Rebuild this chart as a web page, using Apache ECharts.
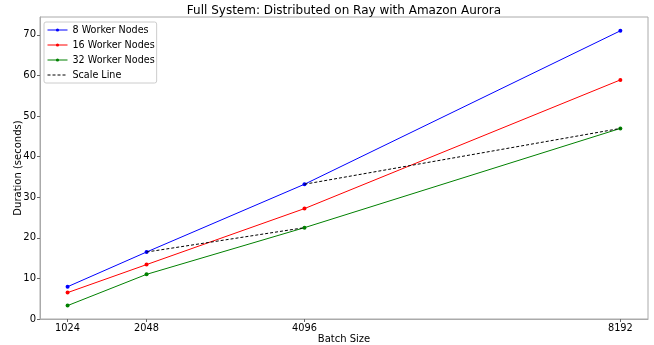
<!DOCTYPE html>
<html><head><meta charset="utf-8">
<script src="https://cdn.jsdelivr.net/npm/echarts@6/dist/echarts.min.js"></script>
<style>html,body{margin:0;padding:0;background:#fff}#c{width:654px;height:345px}</style>
</head><body><div id="c"></div>
<script>
const batchSizes = [1024, 2048, 4096, 8192];
const nodes8 = [7.95, 16.5, 33.2, 71.0];
const nodes16 = [6.5, 13.4, 27.2, 58.9];
const nodes32 = [3.3, 11.0, 22.5, 46.95];
const scaleSeg1 = [[2048, 16.5], [4096, 22.5]];
const scaleSeg2 = [[4096, 33.2], [8192, 46.95]];
const yTicks = [0, 10, 20, 30, 40, 50, 60, 70];

const F = 'DejaVu Sans';
const pairs = arr => batchSizes.map((b, i) => [b, arr[i]]);
const mk = (name, data, color) => ({
  name, type: 'line', data: pairs(data), symbol: 'circle', symbolSize: 4,
  itemStyle: { color }, lineStyle: { color, width: 1 }, animation: false
});
const chart = echarts.init(document.getElementById('c'), null, { renderer: 'canvas' });
chart.setOption({
  animation: false,
  title: { text: 'Full System: Distributed on Ray with Amazon Aurora', left: 339, top: 0, textAlign: 'center',
    textStyle: { fontFamily: F, fontSize: 12, fontWeight: 'normal', color: '#000' } },
  grid: { left: 40, right: 6, top: 17, bottom: 26, show: true, borderColor: '#aaa', borderWidth: 1,
    outerBoundsMode: 'none', containLabel: false },
  legend: {
    orient: 'vertical', left: 44, top: 22, itemWidth: 20, itemHeight: 4, itemGap: 5,
    backgroundColor: '#fff', borderColor: '#ccc', borderWidth: 1, borderRadius: 2, padding: [3, 2, 3, 3],
    lineStyle: { width: 1 },
    textStyle: { fontFamily: F, fontSize: 9.6, color: '#000' },
    data: ['8 Worker Nodes', '16 Worker Nodes', '32 Worker Nodes', { name: 'Scale Line', itemStyle: { opacity: 0 } }]
  },
  xAxis: {
    type: 'value', min: 666.4, max: 8550.4, name: 'Batch Size', nameLocation: 'middle', nameGap: 15,
    nameMoveOverlap: false,
    nameTextStyle: { fontFamily: F, fontSize: 10, color: '#000' },
    axisLine: { show: true, lineStyle: { color: '#aaa' } },
    axisTick: { show: true, customValues: batchSizes, length: 3, lineStyle: { color: '#666' } },
    axisLabel: { customValues: batchSizes, formatter: v => String(v), fontFamily: F, fontSize: 9.8, color: '#000', margin: 4 },
    splitLine: { show: false }
  },
  yAxis: {
    type: 'value', min: 0, max: 74.4, name: 'Duration (seconds)', nameLocation: 'middle', nameGap: 17,
    nameMoveOverlap: false,
    nameTextStyle: { fontFamily: F, fontSize: 10, color: '#000' },
    axisLine: { show: true, lineStyle: { color: '#aaa' } },
    axisTick: { show: true, customValues: yTicks, length: 3, lineStyle: { color: '#666' } },
    axisLabel: { customValues: yTicks, formatter: v => String(v), fontFamily: F, fontSize: 10, color: '#000', margin: 4 },
    splitLine: { show: false }
  },
  series: [
    mk('8 Worker Nodes', nodes8, '#0000ff'),
    mk('16 Worker Nodes', nodes16, '#ff0000'),
    mk('32 Worker Nodes', nodes32, '#008000'),
    { name: 'Scale Line', type: 'line', data: scaleSeg1, symbol: 'none', z: 5,
      itemStyle: { color: '#000' }, lineStyle: { color: '#000', width: 1, type: [3, 2] } },
    { name: 'Scale Line', type: 'line', data: scaleSeg2, symbol: 'none', z: 5,
      itemStyle: { color: '#000' }, lineStyle: { color: '#000', width: 1, type: [3, 2] } }
  ]
});
</script></body></html>
